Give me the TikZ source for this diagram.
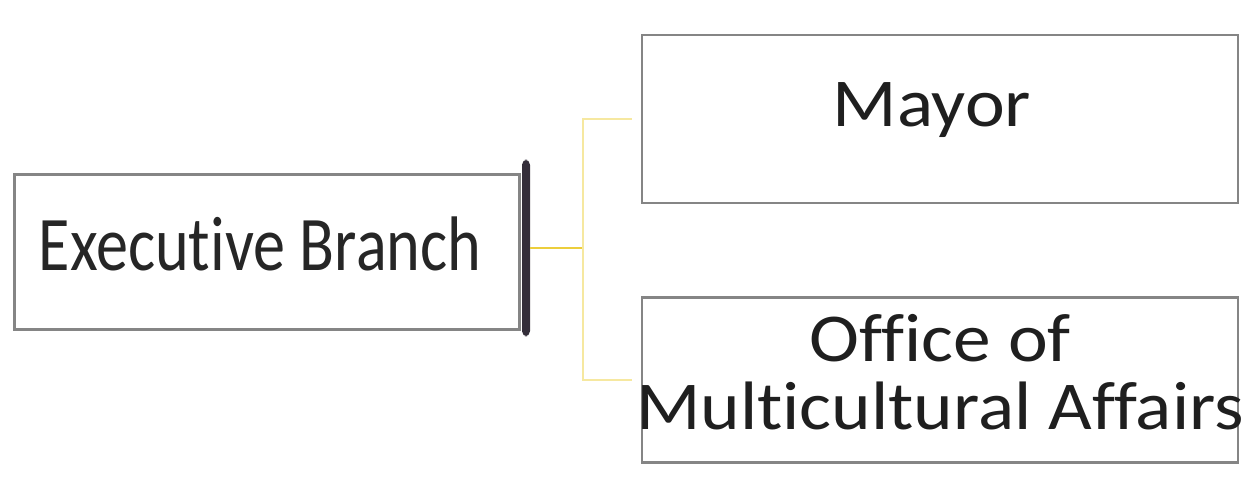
\documentclass[tikz,border=0pt]{standalone}
\usepackage{fontspec}
\setmainfont{Carlito}[Ligatures=NoCommon]
\definecolor{barink}{RGB}{52,46,58}
\definecolor{stemink}{RGB}{236,206,60}
\definecolor{branchink}{RGB}{246,232,160}
\begin{document}
\begin{tikzpicture}[x=0.02cm,y=-0.02cm,
  orgbox/.style={draw=black!48, line width=1.6pt, fill=white, inner sep=0pt},
  sidebar/.style={fill=barink, rounded corners=3pt, minimum width=0.16cm, minimum height=3.54cm, inner sep=0pt},
  stem/.style={draw=stemink, line width=1.1pt},
  branch/.style={draw=branchink, line width=1.1pt, shorten >=0.18cm},
  bigtext/.style={font=\fontsize{44pt}{46pt}\selectfont, text=black!85},
  boxtext/.style={font=\fontsize{39pt}{39pt}\selectfont, text=black!88, align=center}]
\useasboundingbox (0,0) rectangle (1245,480);
% left box with its dark side bar
\node[orgbox, minimum width=10.1cm, minimum height=3.1cm] (exec) at (267,252) {};
\node[bigtext] (exectext) at (260,244) {\scalebox{0.83}[1]{Executive Branch}};
\node[sidebar] (bar) at (526,248) {};
% right boxes
\node[orgbox, minimum width=11.92cm, minimum height=3.36cm] (mayor) at (940,119) {};
\node[boxtext] (mayortext) at (932,110) {\scalebox{1.1}[1]{Mayor}};
\node[orgbox, minimum width=11.92cm, minimum height=3.3cm] (office) at (940,380) {};
\node[boxtext] (officetext) at (940,372) {\scalebox{1.1}[1]{Office of}\\\scalebox{1.1}[1]{Multicultural Affairs}};
% elbow connectors
\coordinate (fork) at (583,248);
\draw[stem] (bar.east) -- (fork);
\draw[branch] (fork) |- (mayor.west);
\draw[branch] (fork) |- (office.west);
\end{tikzpicture}
\end{document}
